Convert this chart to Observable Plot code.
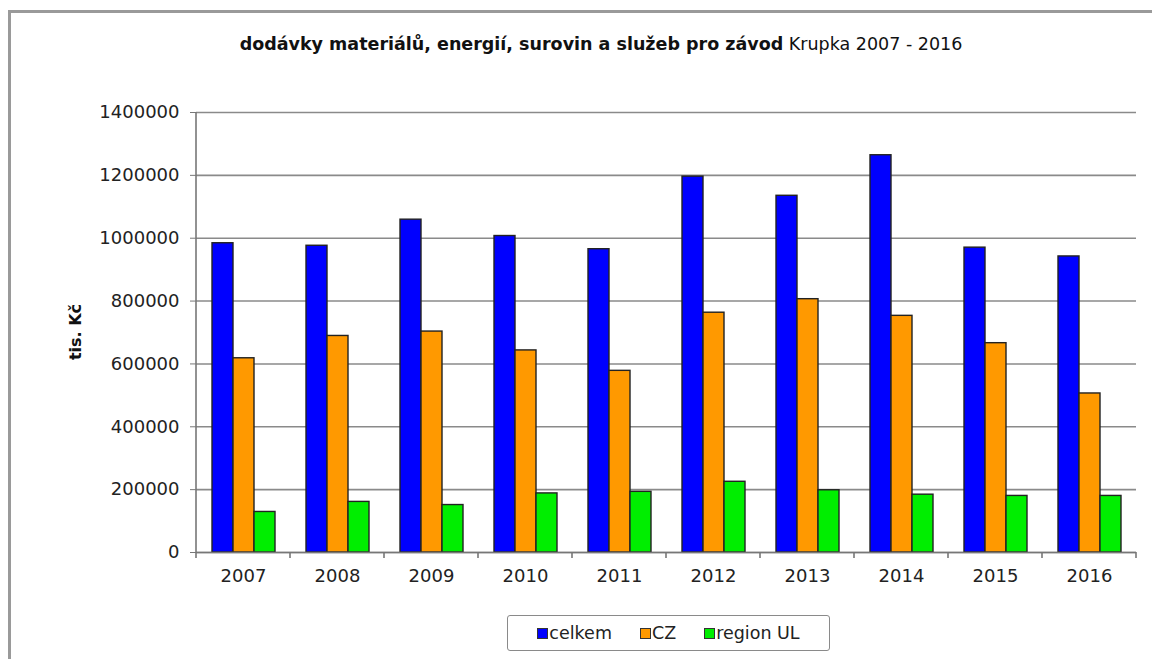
<!DOCTYPE html>
<html>
<head>
<meta charset="utf-8">
<script src="https://cdn.jsdelivr.net/npm/d3@7"></script>
<script src="https://cdn.jsdelivr.net/npm/@observablehq/plot@0.6"></script>
<style>
  html, body { margin: 0; padding: 0; background: #fff; }
  #page { position: relative; width: 1152px; height: 659px; overflow: hidden; font-family: "DejaVu Sans", sans-serif; }
  #frame { position: absolute; left: 8px; top: 10px; width: 1200px; height: 700px; border-left: 3px solid #9a9a9a; border-top: 3px solid #9a9a9a; }
  #title { position: absolute; top: 34px; left: 50px; width: 1102px; text-align: center; font-size: 17.5px; color: #111; white-space: nowrap; }
  #title b { font-weight: bold; }
  #chart { position: absolute; left: 0; top: 70px; }
  #legend { position: absolute; left: 507px; top: 615px; width: 321px; height: 34px; border: 1.5px solid #8a8a8a; border-radius: 3px; display: flex; align-items: center; justify-content: center; gap: 28px; font-size: 17.5px; color: #222; background: #fff; }
  .item { display: flex; align-items: center; }
  .sw { width: 9px; height: 9px; border: 1.5px solid #333; margin-right: 1px; }
</style>
</head>
<body>
<div id="page">
  <div id="frame"></div>
  <div id="title"><b>dodávky materiálů, energií, surovin a služeb pro závod</b> Krupka 2007 - 2016</div>
  <div id="chart"></div>
  <div id="legend"></div>
</div>
<script>
const years = ["2007","2008","2009","2010","2011","2012","2013","2014","2015","2016"];
const series = ["celkem", "CZ", "region UL"];
const colors = ["#0000ff", "#ff9900", "#00ee00"];
const celkem   = [984000, 976000, 1059000, 1007000, 965000, 1196000, 1135000, 1264000, 970000, 942000];
const cz       = [618000, 689000, 703000, 643000, 578000, 763000, 806000, 753000, 666000, 506000];
const regionUL = [129000, 161000, 151000, 188000, 193000, 225000, 198000, 184000, 180000, 180000];
const yTicks = [0, 200000, 400000, 600000, 800000, 1000000, 1200000, 1400000];

const valuesBySeries = [celkem, cz, regionUL];
const data = [];
years.forEach((yr, i) => {
  series.forEach((s, j) => data.push({year: yr, series: s, value: valuesBySeries[j][i]}));
});

const W = 1152, H = 530;
const chart = Plot.plot({
  width: W,
  height: H,
  marginTop: 42,
  marginBottom: 48,
  marginLeft: 195,
  marginRight: 15,
  style: {fontFamily: "DejaVu Sans, sans-serif", fontSize: "18px", color: "#222", background: "transparent", overflow: "visible"},
  fx: {domain: years, padding: 0, label: null},
  x: {domain: series, paddingInner: 0, paddingOuter: 0.72, axis: null},
  y: {domain: [0, 1400000], label: null},
  color: {domain: series, range: colors},
  marks: [
    Plot.gridY(yTicks, {stroke: "#8a8a8a", strokeOpacity: 1, strokeWidth: 1.6}),
    Plot.barY(data, {fx: "year", x: "series", y: "value", fill: "series", stroke: "#222", strokeWidth: 1.4}),
    Plot.ruleY([0], {stroke: "#777", strokeWidth: 1.6}),
    Plot.axisY(yTicks, {tickSize: 6, tickPadding: 11, tickFormat: d => String(d), stroke: "#777", fontSize: 18, fill: "#222"}),
    Plot.axisFx({anchor: "bottom", tickSize: 0, tickPadding: 17, fontSize: 18, fill: "#222", label: null})
  ]
});
document.getElementById("chart").appendChild(chart);

// left axis line and category boundary ticks, positioned from the Plot scales
const fx = chart.scale("fx");
const ys = chart.scale("y");
const svg = d3.select(chart);
const g = svg.append("g").attr("stroke", "#777").attr("stroke-width", 1.6);
const y0 = ys.apply(0), yTop = ys.apply(1400000);
const x0 = fx.apply(years[0]);
g.append("line").attr("x1", x0).attr("x2", x0).attr("y1", yTop).attr("y2", y0 + 6);
const bounds = years.map(d => fx.apply(d)).concat([fx.apply(years[years.length - 1]) + fx.bandwidth]);
bounds.slice(1).forEach(b => {
  g.append("line").attr("x1", b).attr("x2", b).attr("y1", y0).attr("y2", y0 + 6);
});

// y axis title
svg.append("text")
  .attr("transform", `translate(81,${(y0 + yTop) / 2}) rotate(-90)`)
  .attr("text-anchor", "middle")
  .attr("font-weight", "bold")
  .attr("font-size", 16)
  .attr("fill", "#111")
  .text("tis. Kč");

// legend
const legend = d3.select("#legend");
series.forEach((s, i) => {
  const it = legend.append("div").attr("class", "item");
  it.append("div").attr("class", "sw").style("background", colors[i]);
  it.append("span").text(s);
});
</script>
</body>
</html>
